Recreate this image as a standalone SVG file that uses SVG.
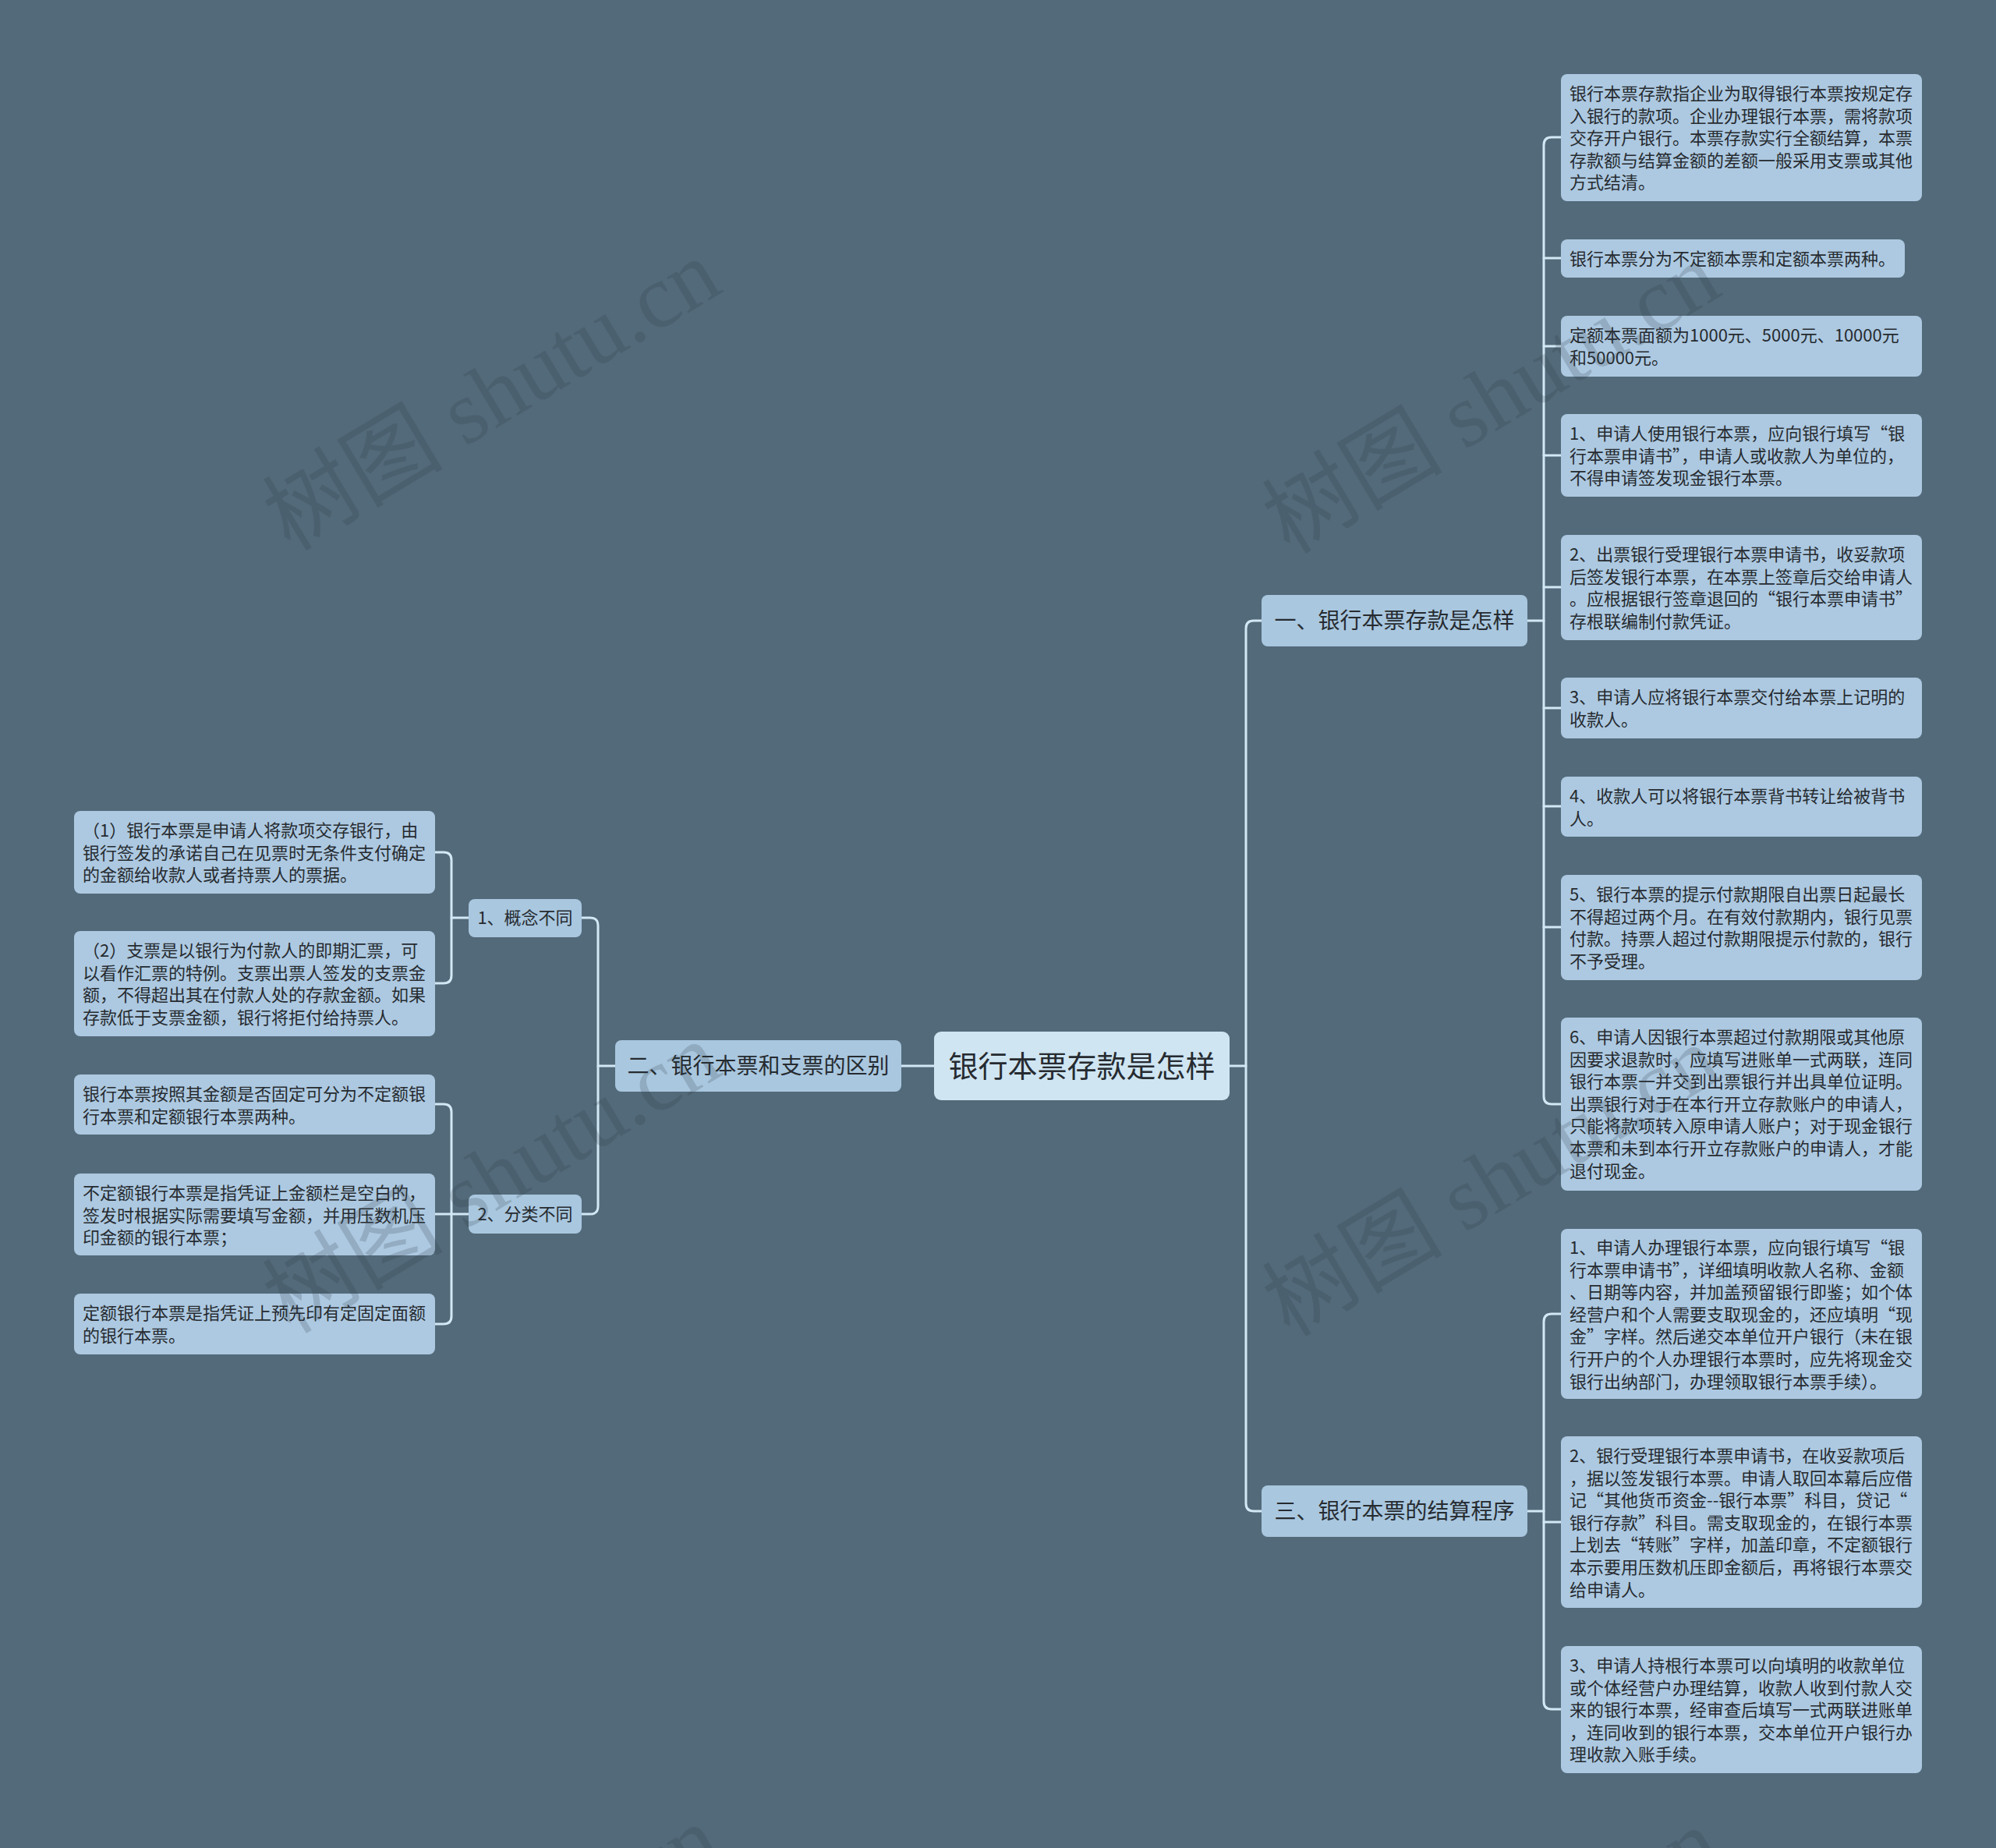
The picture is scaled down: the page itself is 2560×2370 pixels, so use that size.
<svg xmlns="http://www.w3.org/2000/svg" width="2560" height="2370" viewBox="0 0 2560 2370">
<style>
.bg{fill:#536a7a}
.leaf{fill:#adc9e1}
.l1{fill:#a9c7df}
.root{fill:#cfe5f2}
.edge{fill:none;stroke:#d3e8f5;stroke-width:3;stroke-linecap:round}
text{font-family:"Noto Sans CJK SC","Liberation Sans",sans-serif;fill:#262b30}
.t22{font-size:22px}
.t28{font-size:28px}
.t38{font-size:38px}
.mid{text-anchor:middle}
.wm{font-family:"Liberation Serif","Noto Sans CJK SC",serif;font-size:116px;fill:#2b3a45;fill-opacity:0.2}
</style>
<rect class="bg" x="0" y="0" width="2560" height="2370"/>

<g id="connectors">
<path class="edge" d="M1577,1367 H1598"/>
<path class="edge" d="M1618,796 H1608 Q1598,796 1598,806 V1928 Q1598,1938 1608,1938 H1618"/>
<path class="edge" d="M1198,1367 H1156"/>
<path class="edge" d="M789,1367 H767"/>
<path class="edge" d="M746,1177 H757 Q767,1177 767,1187 V1547 Q767,1557 757,1557 H746"/>
<path class="edge" d="M601,1177 H579"/>
<path class="edge" d="M558,1093 H569 Q579,1093 579,1103 V1251 Q579,1261 569,1261 H558"/>
<path class="edge" d="M601,1557 H558"/>
<path class="edge" d="M558,1416 H569 Q579,1416 579,1426 V1688 Q579,1698 569,1698 H558"/>
<path class="edge" d="M1959,796 H1980"/>
<path class="edge" d="M2002,176 H1990 Q1980,176 1980,186 V1406 Q1980,1416 1990,1416 H2002"/>
<path class="edge" d="M1980,331 H2002 M1980,444 H2002 M1980,584 H2002 M1980,753 H2002 M1980,908 H2002 M1980,1034 H2002 M1980,1189 H2002"/>
<path class="edge" d="M1959,1938 H1980"/>
<path class="edge" d="M2002,1685 H1990 Q1980,1685 1980,1695 V2182 Q1980,2192 1990,2192 H2002"/>
<path class="edge" d="M1980,1952 H2002"/>
</g>

<g id="root">
<rect class="root" x="1198" y="1323" width="379" height="88" rx="9"/>
<text class="t38 mid" x="1387.5" y="1381">银行本票存款是怎样</text>
</g>

<g id="b1">
<rect class="l1" x="1618" y="763" width="341" height="66" rx="8"/>
<text class="t28 mid" x="1788.5" y="806">一、银行本票存款是怎样</text>
</g>
<g id="b3">
<rect class="l1" x="1618" y="1905" width="341" height="66" rx="8"/>
<text class="t28 mid" x="1788.5" y="1948">三、银行本票的结算程序</text>
</g>
<g id="b2">
<rect class="l1" x="789" y="1334" width="367" height="66" rx="8"/>
<text class="t28 mid" x="972.5" y="1377">二、银行本票和支票的区别</text>
</g>

<g id="c1">
<rect class="l1" x="601" y="1153" width="145" height="49" rx="8"/>
<text class="t22 mid" x="673.5" y="1185">1、概念不同</text>
</g>
<g id="c2">
<rect class="l1" x="601" y="1532" width="145" height="50" rx="8"/>
<text class="t22 mid" x="673.5" y="1565">2、分类不同</text>
</g>

<g id="L1">
<rect class="leaf" x="95" y="1040" width="463" height="106" rx="8"/>
<text class="t22" x="106" y="1073"><tspan x="106">（1）银行本票是申请人将款项交存银行，由</tspan><tspan x="106" dy="28.6">银行签发的承诺自己在见票时无条件支付确定</tspan><tspan x="106" dy="28.6">的金额给收款人或者持票人的票据。</tspan></text>
</g>
<g id="L2">
<rect class="leaf" x="95" y="1194" width="463" height="135" rx="8"/>
<text class="t22" x="106" y="1227"><tspan x="106">（2）支票是以银行为付款人的即期汇票，可</tspan><tspan x="106" dy="28.6">以看作汇票的特例。支票出票人签发的支票金</tspan><tspan x="106" dy="28.6">额，不得超出其在付款人处的存款金额。如果</tspan><tspan x="106" dy="28.6">存款低于支票金额，银行将拒付给持票人。</tspan></text>
</g>
<g id="L3">
<rect class="leaf" x="95" y="1378" width="463" height="77" rx="8"/>
<text class="t22" x="106" y="1411"><tspan x="106">银行本票按照其金额是否固定可分为不定额银</tspan><tspan x="106" dy="28.6">行本票和定额银行本票两种。</tspan></text>
</g>
<g id="L4">
<rect class="leaf" x="95" y="1505" width="463" height="105" rx="8"/>
<text class="t22" x="106" y="1538"><tspan x="106">不定额银行本票是指凭证上金额栏是空白的，</tspan><tspan x="106" dy="28.6">签发时根据实际需要填写金额，并用压数机压</tspan><tspan x="106" dy="28.6">印金额的银行本票；</tspan></text>
</g>
<g id="L5">
<rect class="leaf" x="95" y="1659" width="463" height="78" rx="8"/>
<text class="t22" x="106" y="1692"><tspan x="106">定额银行本票是指凭证上预先印有定固定面额</tspan><tspan x="106" dy="28.6">的银行本票。</tspan></text>
</g>

<g id="N1">
<rect class="leaf" x="2002" y="95" width="463" height="163" rx="8"/>
<text class="t22" x="2013" y="128"><tspan x="2013">银行本票存款指企业为取得银行本票按规定存</tspan><tspan x="2013" dy="28.6">入银行的款项。企业办理银行本票，需将款项</tspan><tspan x="2013" dy="28.6">交存开户银行。本票存款实行全额结算，本票</tspan><tspan x="2013" dy="28.6">存款额与结算金额的差额一般采用支票或其他</tspan><tspan x="2013" dy="28.6">方式结清。</tspan></text>
</g>
<g id="N2">
<rect class="leaf" x="2002" y="307" width="441" height="49" rx="8"/>
<text class="t22" x="2013" y="340">银行本票分为不定额本票和定额本票两种。</text>
</g>
<g id="N3">
<rect class="leaf" x="2002" y="405" width="463" height="78" rx="8"/>
<text class="t22" x="2013" y="438"><tspan x="2013">定额本票面额为1000元、5000元、10000元</tspan><tspan x="2013" dy="28.6">和50000元。</tspan></text>
</g>
<g id="N4">
<rect class="leaf" x="2002" y="531" width="463" height="106" rx="8"/>
<text class="t22" x="2013" y="564"><tspan x="2013">1、申请人使用银行本票，应向银行填写“银</tspan><tspan x="2013" dy="28.6">行本票申请书”，申请人或收款人为单位的，</tspan><tspan x="2013" dy="28.6">不得申请签发现金银行本票。</tspan></text>
</g>
<g id="N5">
<rect class="leaf" x="2002" y="686" width="463" height="135" rx="8"/>
<text class="t22" x="2013" y="719"><tspan x="2013">2、出票银行受理银行本票申请书，收妥款项</tspan><tspan x="2013" dy="28.6">后签发银行本票，在本票上签章后交给申请人</tspan><tspan x="2013" dy="28.6">。应根据银行签章退回的“银行本票申请书”</tspan><tspan x="2013" dy="28.6">存根联编制付款凭证。</tspan></text>
</g>
<g id="N6">
<rect class="leaf" x="2002" y="869" width="463" height="78" rx="8"/>
<text class="t22" x="2013" y="902"><tspan x="2013">3、申请人应将银行本票交付给本票上记明的</tspan><tspan x="2013" dy="28.6">收款人。</tspan></text>
</g>
<g id="N7">
<rect class="leaf" x="2002" y="996" width="463" height="77" rx="8"/>
<text class="t22" x="2013" y="1029"><tspan x="2013">4、收款人可以将银行本票背书转让给被背书</tspan><tspan x="2013" dy="28.6">人。</tspan></text>
</g>
<g id="N8">
<rect class="leaf" x="2002" y="1122" width="463" height="135" rx="8"/>
<text class="t22" x="2013" y="1155"><tspan x="2013">5、银行本票的提示付款期限自出票日起最长</tspan><tspan x="2013" dy="28.6">不得超过两个月。在有效付款期内，银行见票</tspan><tspan x="2013" dy="28.6">付款。持票人超过付款期限提示付款的，银行</tspan><tspan x="2013" dy="28.6">不予受理。</tspan></text>
</g>
<g id="N9">
<rect class="leaf" x="2002" y="1305" width="463" height="222" rx="8"/>
<text class="t22" x="2013" y="1338"><tspan x="2013">6、申请人因银行本票超过付款期限或其他原</tspan><tspan x="2013" dy="28.6">因要求退款时，应填写进账单一式两联，连同</tspan><tspan x="2013" dy="28.6">银行本票一并交到出票银行并出具单位证明。</tspan><tspan x="2013" dy="28.6">出票银行对于在本行开立存款账户的申请人，</tspan><tspan x="2013" dy="28.6">只能将款项转入原申请人账户；对于现金银行</tspan><tspan x="2013" dy="28.6">本票和未到本行开立存款账户的申请人，才能</tspan><tspan x="2013" dy="28.6">退付现金。</tspan></text>
</g>
<g id="N10">
<rect class="leaf" x="2002" y="1576" width="463" height="218" rx="8"/>
<text class="t22" x="2013" y="1608"><tspan x="2013">1、申请人办理银行本票，应向银行填写“银</tspan><tspan x="2013" dy="28.6">行本票申请书”，详细填明收款人名称、金额</tspan><tspan x="2013" dy="28.6">、日期等内容，并加盖预留银行即鉴；如个体</tspan><tspan x="2013" dy="28.6">经营户和个人需要支取现金的，还应填明“现</tspan><tspan x="2013" dy="28.6">金”字样。然后递交本单位开户银行（未在银</tspan><tspan x="2013" dy="28.6">行开户的个人办理银行本票时，应先将现金交</tspan><tspan x="2013" dy="28.6">银行出纳部门，办理领取银行本票手续）。</tspan></text>
</g>
<g id="N11">
<rect class="leaf" x="2002" y="1842" width="463" height="220" rx="8"/>
<text class="t22" x="2013" y="1875"><tspan x="2013">2、银行受理银行本票申请书，在收妥款项后</tspan><tspan x="2013" dy="28.6">，据以签发银行本票。申请人取回本幕后应借</tspan><tspan x="2013" dy="28.6">记“其他货币资金--银行本票”科目，贷记“</tspan><tspan x="2013" dy="28.6">银行存款”科目。需支取现金的，在银行本票</tspan><tspan x="2013" dy="28.6">上划去“转账”字样，加盖印章，不定额银行</tspan><tspan x="2013" dy="28.6">本示要用压数机压即金额后，再将银行本票交</tspan><tspan x="2013" dy="28.6">给申请人。</tspan></text>
</g>
<g id="N12">
<rect class="leaf" x="2002" y="2111" width="463" height="163" rx="8"/>
<text class="t22" x="2013" y="2144"><tspan x="2013">3、申请人持根行本票可以向填明的收款单位</tspan><tspan x="2013" dy="28.6">或个体经营户办理结算，收款人收到付款人交</tspan><tspan x="2013" dy="28.6">来的银行本票，经审查后填写一式两联进账单</tspan><tspan x="2013" dy="28.6">，连同收到的银行本票，交本单位开户银行办</tspan><tspan x="2013" dy="28.6">理收款入账手续。</tspan></text>
</g>

<g id="watermarks">
<text class="wm" transform="translate(372,708) rotate(-31)">树图 shutu.cn</text>
<text class="wm" transform="translate(1654,712) rotate(-31)">树图 shutu.cn</text>
<text class="wm" transform="translate(372,1712) rotate(-31)">树图 shutu.cn</text>
<text class="wm" transform="translate(1654,1716) rotate(-31)">树图 shutu.cn</text>
<text class="wm" transform="translate(372,2716) rotate(-31)">树图 shutu.cn</text>
<text class="wm" transform="translate(1654,2720) rotate(-31)">树图 shutu.cn</text>
</g>
</svg>
